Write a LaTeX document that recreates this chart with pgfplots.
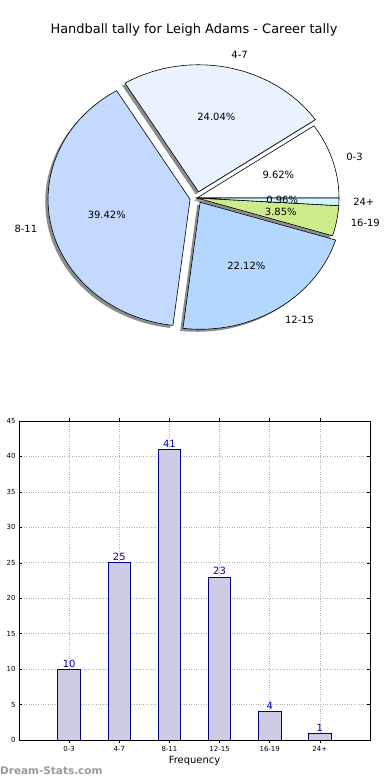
\documentclass[border=0pt]{standalone}
\usepackage{pgfplots}
\pgfplotsset{compat=1.18}
\usepackage{fontspec}
\setmainfont{DejaVu Sans}
\definecolor{sA}{HTML}{FFFFFF}
\definecolor{sB}{HTML}{EAF2FF}
\definecolor{sC}{HTML}{C4D9FF}
\definecolor{sD}{HTML}{B4D7FF}
\definecolor{sE}{HTML}{CDEB8B}
\definecolor{sF}{HTML}{D0F5FF}
\definecolor{barfill}{HTML}{CCCCE6}
\definecolor{baredge}{HTML}{000080}
\definecolor{lblblue}{HTML}{0000A0}
% counts: 0-3:10, 4-7:25, 8-11:41, 12-15:23, 16-19:4, 24+:1  (total 104)
\newcommand{\pieshape}[4]{%
  \pgfmathsetmacro\pmid{(#1+#2)/2}%
  \pgfmathsetmacro\pcx{197+#3*142*cos(\pmid)}%
  \pgfmathsetmacro\pcy{582+#3*127*sin(\pmid)}%
  \pgfmathsetmacro\psx{\pcx+142*cos(#1)}%
  \pgfmathsetmacro\psy{\pcy+127*sin(#1)}%
  \path[#4] (axis cs:\pcx,\pcy) -- (axis cs:\psx,\psy) arc[start angle=#1, end angle=#2, x radius=142bp, y radius=127bp] -- cycle;%
}
\newcommand{\pielabel}[6]{%
  \pgfmathsetmacro\pmid{(#1+#2)/2}%
  \pgfmathsetmacro\pcx{197+#3*142*cos(\pmid)}%
  \pgfmathsetmacro\pcy{582+#3*127*sin(\pmid)}%
  \pgfmathsetmacro\plx{\pcx+1.1*142*cos(\pmid)}%
  \pgfmathsetmacro\ply{\pcy+1.1*127*sin(\pmid)}%
  \pgfmathsetmacro\ppx{\pcx+0.6*142*cos(\pmid)}%
  \pgfmathsetmacro\ppy{\pcy+0.6*127*sin(\pmid)}%
  \node[anchor=#6, inner sep=0pt, font=\fontsize{10}{12}\selectfont] at (axis cs:\plx,\ply) {#4};%
  \node[inner sep=0pt, font=\fontsize{10}{12}\selectfont] at (axis cs:\ppx,\ppy) {#5};%
}
\begin{document}
\begin{tikzpicture}
\useasboundingbox (0,0) rectangle (390bp,780bp);
\begin{axis}[at={(0bp,390bp)}, anchor=south west, scale only axis,
  width=390bp, height=390bp, xmin=0, xmax=390, ymin=390, ymax=780,
  hide axis, clip=false]
\pgfplotsextra{%
  \pgfmathsetmacro\tot{10+25+41+23+4+1}%
  \pgfmathsetmacro\aA{0}%
  \pgfmathsetmacro\aB{\aA+360*10/\tot}%
  \pgfmathsetmacro\aC{\aB+360*25/\tot}%
  \pgfmathsetmacro\aD{\aC+360*41/\tot}%
  \pgfmathsetmacro\aE{\aD+360*23/\tot}%
  \pgfmathsetmacro\aF{\aE+360*4/\tot}%
  \pgfmathsetmacro\aG{\aF+360*1/\tot}%
  % shadows
  \pieshape{\aA}{\aB}{0}{fill=black!45, xshift=-2.8bp, yshift=-2.5bp}
  \pieshape{\aB}{\aC}{0.05}{fill=black!45, xshift=-2.8bp, yshift=-2.5bp}
  \pieshape{\aC}{\aD}{0.05}{fill=black!45, xshift=-2.8bp, yshift=-2.5bp}
  \pieshape{\aD}{\aE}{0.04}{fill=black!45, xshift=-2.8bp, yshift=-2.5bp}
  \pieshape{\aE}{\aF}{0}{fill=black!45, xshift=-2.8bp, yshift=-2.5bp}
  \pieshape{\aF}{\aG}{0}{fill=black!45, xshift=-2.8bp, yshift=-2.5bp}
  % wedges
  \pieshape{\aA}{\aB}{0}{fill=sA, draw=black, line width=0.6bp}
  \pieshape{\aB}{\aC}{0.05}{fill=sB, draw=black, line width=0.6bp}
  \pieshape{\aC}{\aD}{0.05}{fill=sC, draw=black, line width=0.6bp}
  \pieshape{\aD}{\aE}{0.04}{fill=sD, draw=black, line width=0.6bp}
  \pieshape{\aE}{\aF}{0}{fill=sE, draw=black, line width=0.6bp}
  \pieshape{\aF}{\aG}{0}{fill=sF, draw=black, line width=0.6bp}
  % labels
  \pielabel{\aA}{\aB}{0}{0-3}{9.62\%}{west}
  \pielabel{\aB}{\aC}{0.05}{4-7}{24.04\%}{west}
  \pielabel{\aC}{\aD}{0.05}{8-11}{39.42\%}{east}
  \pielabel{\aD}{\aE}{0.04}{12-15}{22.12\%}{west}
  \pielabel{\aE}{\aF}{0}{16-19}{3.85\%}{west}
  \pielabel{\aF}{\aG}{0}{24+}{0.96\%}{west}
  \node[font=\fontsize{13}{15}\selectfont] at (axis cs:194,750) {Handball tally for Leigh Adams - Career tally};
}
\end{axis}
\begin{axis}[at={(19bp,40bp)}, anchor=south west, scale only axis,
  width=351bp, height=319bp,
  xmin=-1, xmax=6, ymin=0, ymax=45,
  xtick={0,...,5}, xticklabels={0-3,4-7,8-11,12-15,16-19,24+},
  ytick={0,5,...,45},
  grid=major, grid style={gray!60, dotted, line width=0.6bp},
  tick align=inside, tick pos=both, major tick length=3bp,
  tick style={black, line width=0.5bp},
  ticklabel style={font=\fontsize{7}{8}\selectfont},
  /pgf/number format/assume math mode=true,
  xlabel={Frequency},
  xlabel style={font=\fontsize{10}{12}\selectfont, inner sep=1bp},
  axis line style={line width=0.8bp},
  ybar, bar width=22.5bp,
  nodes near coords,
  nodes near coords style={font=\fontsize{10}{12}\selectfont, color=lblblue, anchor=south, inner sep=1.5bp},
]
\addplot[fill=barfill, draw=baredge, line width=0.8bp] coordinates {(0,10) (1,25) (2,41) (3,23) (4,4) (5,1)};
\end{axis}
\node[anchor=west, inner sep=0pt, font=\fontsize{10.5}{12}\selectfont\bfseries, text=black!40] at (0bp,9bp) {Dream-Stats.com};
\end{tikzpicture}
\end{document}
